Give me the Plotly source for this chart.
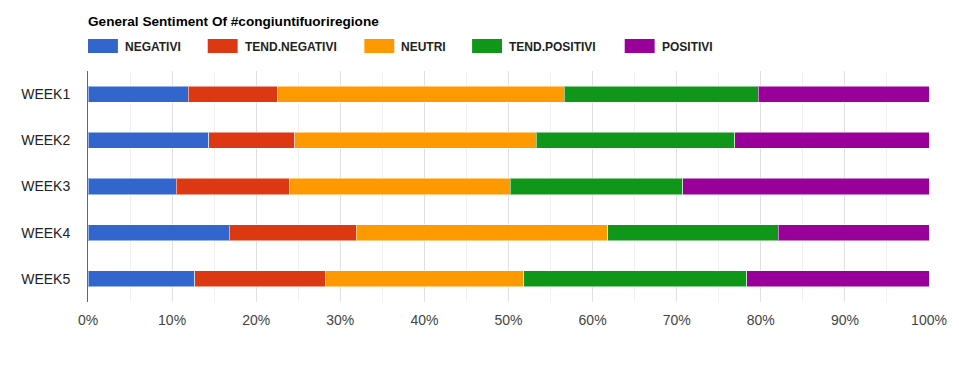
import plotly.graph_objects as go

weeks = ["WEEK1", "WEEK2", "WEEK3", "WEEK4", "WEEK5"]
series_names = ["NEGATIVI", "TEND.NEGATIVI", "NEUTRI", "TEND.POSITIVI", "POSITIVI"]
negativi = [11.9, 14.35, 10.5, 16.8, 12.7]
tend_negativi = [10.6, 10.25, 13.5, 15.1, 15.5]
neutri = [34.1, 28.7, 26.2, 29.9, 23.6]
tend_positivi = [23.1, 23.6, 20.5, 20.3, 26.5]
positivi = [20.3, 23.1, 29.3, 17.9, 21.7]
x_ticks = [0, 10, 20, 30, 40, 50, 60, 70, 80, 90, 100]
x_tick_labels = ["0%", "10%", "20%", "30%", "40%", "50%", "60%", "70%", "80%", "90%", "100%"]

colors = ["#3366cc", "#dc3912", "#ff9900", "#109618", "#990099"]
values = [negativi, tend_negativi, neutri, tend_positivi, positivi]

W, H = 959, 365
L, R, T, B = 88, 28, 71, 63
pw, ph = W - L - R, H - T - B

def px_x(x):
    return (x - L) / pw

def px_y(y):
    return (H - B - y) / ph

fig = go.Figure()
for name, vals, c in zip(series_names, values, colors):
    fig.add_trace(go.Bar(
        y=weeks, x=vals, name=name, orientation="h",
        marker=dict(color=c, line=dict(color="rgba(255,255,255,0.5)", width=1)),
        showlegend=False,
    ))

# custom legend
legend_x = [88, 208, 365, 473, 626]
shapes = []
annotations = []
for lx, name, c in zip(legend_x, series_names, colors):
    shapes.append(dict(type="rect", xref="paper", yref="paper",
                       x0=px_x(lx), x1=px_x(lx + 30), y0=px_y(53), y1=px_y(39),
                       fillcolor=c, line=dict(width=0)))
    annotations.append(dict(xref="paper", yref="paper", x=px_x(lx + 35), y=px_y(46.5),
                            xanchor="left", yanchor="middle", showarrow=False,
                            text="<b>%s</b>" % name,
                            font=dict(family="Liberation Sans, Arial", size=12, color="#222222")))
annotations.append(dict(xref="paper", yref="paper", x=px_x(86), y=px_y(21),
                        xanchor="left", yanchor="middle", showarrow=False,
                        text="<b>General Sentiment Of #congiuntifuoriregione</b>",
                        font=dict(family="Liberation Sans, Arial", size=13.6, color="#000000")))

fig.update_layout(
    width=W, height=H,
    margin=dict(l=L, r=R, t=T, b=B),
    barmode="stack", barnorm="percent", bargap=0.65,
    plot_bgcolor="white", paper_bgcolor="white",
    font=dict(family="Liberation Sans, Arial", size=14, color="#444444"),
    shapes=shapes, annotations=annotations,
    xaxis=dict(range=[0, 100], tickmode="array", tickvals=x_ticks, ticktext=x_tick_labels,
               showgrid=True, gridcolor="#e0e0e0", gridwidth=1,
               minor=dict(dtick=5, showgrid=True, gridcolor="#f0f0f0"),
               zeroline=False, showline=False,
               ticks="outside", ticklen=5, tickcolor="rgba(0,0,0,0)",
               tickfont=dict(size=14, color="#444444"), fixedrange=True),
    yaxis=dict(autorange="reversed", showline=True, linecolor="#666666", linewidth=1,
               showgrid=False, ticks="outside", ticklen=14, tickcolor="rgba(0,0,0,0)",
               tickfont=dict(size=14, color="#222222"), fixedrange=True),
)

fig.write_html("out.html", config={"displayModeBar": False},
               post_script="document.body.style.margin='0';")
